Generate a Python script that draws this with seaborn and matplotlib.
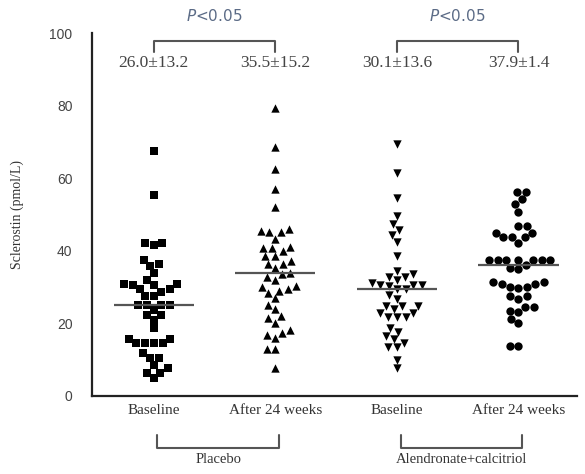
import matplotlib
matplotlib.use('Agg')
import matplotlib.pyplot as plt
import seaborn as sns
import pandas as pd
import numpy as np

# categories / labels
group_keys = ['placebo_base', 'placebo_24w', 'combo_base', 'combo_24w']
tick_labels = ['Baseline', 'After 24 weeks', 'Baseline', 'After 24 weeks']
mean_sd = ['26.0\u00b113.2', '35.5\u00b115.2', '30.1\u00b113.6', '37.9\u00b11.4']
group_names = ['Placebo', 'Alendronate+calcitriol']
markers = ['s', '^', 'v', 'o']

# sclerostin values (pmol/L)
placebo_base = [67.5, 55.5, 42.2, 41.6, 42.2, 37.5, 35.9, 36.5, 33.8, 32.1,
                30.8, 29.4, 30.6, 30.6, 29.4, 30.8, 28.7, 27.5, 27.5,
                25.0, 25.0, 25.0, 25.0, 23.7, 22.3, 22.3, 20.9, 18.6,
                15.6, 14.5, 14.5, 14.5, 14.5, 15.6, 11.8, 10.6, 10.6,
                8.5, 7.6, 6.4, 6.2, 4.9]
placebo_24w = [79.4, 68.7, 62.5, 57.0, 52.2, 45.5, 45.1, 45.1, 46.0, 43.4,
               40.9, 39.9, 40.7, 41.1, 38.6, 38.6, 36.5, 36.4, 37.3,
               35.2, 34.0, 33.6, 32.0, 32.9, 29.9, 30.3, 29.0, 26.9, 28.3, 29.4,
               23.9, 25.1, 21.4, 22.0, 20.2, 17.4, 15.9, 16.8, 18.2,
               12.9, 12.9, 7.6]
combo_base = [69.4, 61.5, 54.5, 49.6, 47.4, 45.7, 44.4, 42.5, 38.6,
              34.5, 33.6, 32.9, 32.9, 32.0,
              30.6, 30.3, 30.6, 30.6, 31.0, 29.4, 29.4,
              27.8, 26.6, 24.8, 24.8, 24.8, 23.9,
              22.8, 21.7, 21.7, 21.7, 22.8, 17.7, 18.6, 15.6, 16.5,
              13.4, 13.4, 14.7, 9.9, 7.6]
combo_24w = [56.3, 56.3, 54.4, 52.9, 50.8, 46.8, 46.8,
             45.0, 43.7, 42.2, 43.7, 43.7, 45.0,
             37.5, 37.5, 37.5, 37.5, 37.5, 37.5, 37.5,
             35.4, 34.9, 36.1,
             31.5, 29.7, 30.9, 29.9, 29.9, 30.9, 31.5,
             27.5, 26.6, 27.5, 24.6, 23.2, 23.5, 24.6,
             21.1, 20.0, 13.9, 13.9]

series = [placebo_base, placebo_24w, combo_base, combo_24w]
df = pd.DataFrame({
    'group': np.repeat(group_keys, [len(s) for s in series]),
    'value': np.concatenate(series),
})

sns.set_style('white')
plt.rcParams['font.family'] = ['Liberation Serif', 'DejaVu Serif']

fig = plt.figure(figsize=(5.85, 4.74), dpi=100)
ax = fig.add_axes([0.157, 0.1646, 0.829, 0.7655])

for key, mk in zip(group_keys, markers):
    sns.swarmplot(data=df[df['group'] == key], x='group', y='value',
                  order=group_keys, marker=mk, color='black', size=6,
                  linewidth=0, ax=ax)

# median line per group
for i, vals in enumerate(series):
    ax.hlines(np.median(vals), i - 0.33, i + 0.33, color='#555555', lw=1.6, zorder=5)

ax.set_xlim(-0.51, 3.48)
ax.set_ylim(0, 100)
ax.set_yticks([0, 20, 40, 60, 80, 100])
ax.set_xticks(range(4))
ax.set_xticklabels(tick_labels, fontsize=11, color='#333333')
for lab in ax.get_yticklabels():
    lab.set_family(['Liberation Sans', 'DejaVu Sans'])
    lab.set_fontsize(10)
    lab.set_color('#444444')
ax.tick_params(axis='both', direction='in', length=6, width=1.4, colors='#222222')
ax.tick_params(axis='x', labelcolor='#333333', pad=6)
ax.tick_params(axis='y', labelcolor='#444444', pad=14)
ax.set_xlabel('')
ax.set_ylabel('Sclerostin (pmol/L)', fontsize=10, color='#333333', labelpad=18)
sns.despine(ax=ax)
for sp in ['left', 'bottom']:
    ax.spines[sp].set_linewidth(1.6)
    ax.spines[sp].set_color('#222222')

# mean ± SD and significance brackets above
for i, txt in enumerate(mean_sd):
    ax.text(i, 91.7, txt, ha='center', va='center', fontsize=12.5, color='#444444')
for j in range(2):
    a, b = 2 * j, 2 * j + 1
    ax.plot([a, a, b, b], [94.8, 97.8, 97.8, 94.8], color='#555555', lw=1.5, clip_on=False)
    ax.text((a + b) / 2, 104.8, r'$P$<0.05', ha='center', va='center', fontsize=11,
            color='#5b6b86', family=['DejaVu Sans'])
    # group brackets below
    ax.plot([a + 0.03, a + 0.03, b + 0.03, b + 0.03], [-10.8, -14.2, -14.2, -10.8],
            color='#555555', lw=1.5, clip_on=False)
    ax.text((a + b) / 2 + 0.03, -15.6, group_names[j], ha='center', va='top',
            fontsize=10.5, color='#333333')

fig.savefig('out.png', dpi=100)
plt.close(fig)
